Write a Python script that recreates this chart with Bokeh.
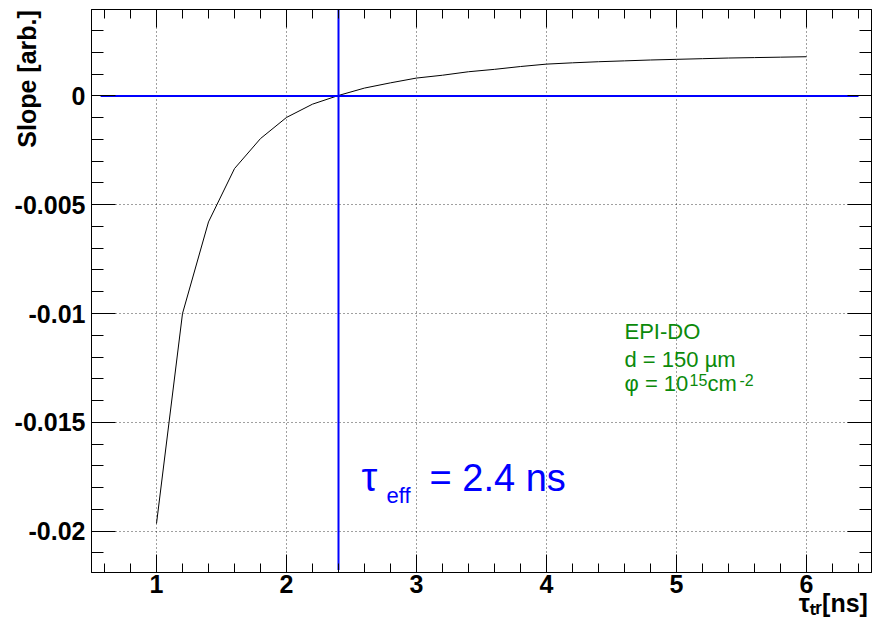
from bokeh.plotting import figure
from bokeh.models import Range1d, FixedTicker, LinearAxis, Label
from bokeh.embed import file_html
from bokeh.resources import INLINE

# ---- data ----
tau_tr = [1.0, 1.2, 1.4, 1.6, 1.8, 2.0, 2.2, 2.4, 2.6, 2.8, 3.0, 3.2, 3.4,
          3.6, 3.8, 4.0, 4.2, 4.4, 4.6, 4.8, 5.0, 5.2, 5.4, 5.6, 5.8, 6.0]
slope = [-0.01965, -0.0100, -0.00579, -0.00334, -0.00196, -0.00099, -0.00038,
         0.00002, 0.00036, 0.00060, 0.00082, 0.00095, 0.00111, 0.00122,
         0.00135, 0.00146, 0.00152, 0.00157, 0.00161, 0.00165, 0.00168,
         0.00171, 0.00174, 0.00176, 0.00178, 0.00180]

tau_eff = 2.4
zero_line_x = [0.57, 6.4]

x_ticks = [1, 2, 3, 4, 5, 6]
x_tick_labels = ["1", "2", "3", "4", "5", "6"]
x_minor = [0.6, 0.8, 1.2, 1.4, 1.6, 1.8, 2.2, 2.4, 2.6, 2.8, 3.2, 3.4, 3.6, 3.8,
           4.2, 4.4, 4.6, 4.8, 5.2, 5.4, 5.6, 5.8, 6.2, 6.4]
y_ticks = [-0.02, -0.015, -0.01, -0.005, 0.0]
y_tick_labels = ["-0.02", "-0.015", "-0.01", "-0.005", "0"]
y_minor = [-0.021, -0.019, -0.018, -0.017, -0.016, -0.014, -0.013, -0.012,
           -0.011, -0.009, -0.008, -0.007, -0.006, -0.004, -0.003, -0.002,
           -0.001, 0.001, 0.002, 0.003]

x_title = "\u03c4\u209c\u1d63[ns]"
y_title = "Slope [arb.]"

x_lo, x_hi = 0.5, 6.5
y_lo, y_hi = -0.0219, 0.00397

FONT = "Liberation Sans"
GREEN = "#0b8a0b"
BLUE = "#0000ff"
NBSP = "\u00a0"

p = figure(width=873, height=631, output_backend="svg", toolbar_location=None,
           x_range=Range1d(x_lo, x_hi), y_range=Range1d(y_lo, y_hi),
           min_border_left=91, min_border_right=2, min_border_top=9,
           min_border_bottom=59)
p.background_fill_color = "white"
p.border_fill_color = "white"
p.outline_line_color = "black"
p.outline_line_width = 1

xt = FixedTicker(ticks=x_ticks, minor_ticks=x_minor)
yt = FixedTicker(ticks=y_ticks, minor_ticks=y_minor)


def style_axis(ax, ticker, major_len, minor_len, labels=None):
    ax.ticker = ticker
    ax.axis_line_color = "black"
    ax.major_tick_line_color = "black"
    ax.minor_tick_line_color = "black"
    ax.major_tick_in = major_len
    ax.major_tick_out = 0
    ax.minor_tick_in = minor_len
    ax.minor_tick_out = 0
    if labels is None:
        ax.major_label_text_font_size = "0px"
        ax.major_label_text_color = None
        ax.major_label_standoff = 0
    else:
        ax.major_label_overrides = labels
        ax.major_label_text_font = FONT
        ax.major_label_text_font_style = "bold"
        ax.major_label_text_font_size = "25px"
        ax.major_label_text_color = "black"
        ax.axis_label_text_font = FONT
        ax.axis_label_text_font_style = "bold"
        ax.axis_label_text_font_size = "25px"
        ax.axis_label_text_color = "black"
        if "axis_label_align" in ax.properties():
            ax.axis_label_align = "end"


# axis titles sit at the far end of each axis (label is centred on the end,
# so it is padded with non-breaking spaces to push the visible text inwards)
xax = p.xaxis[0]
style_axis(xax, xt, 18, 9, {t: l for t, l in zip(x_ticks, x_tick_labels)})
xax.major_label_standoff = 2
xax.axis_label = x_title + NBSP * 11
xax.axis_label_standoff = -7

yax = p.yaxis[0]
style_axis(yax, yt, 24, 12, {t: l for t, l in zip(y_ticks, y_tick_labels)})
yax.major_label_standoff = 6
yax.axis_label = y_title + NBSP * 20
yax.axis_label_standoff = -29

top_ax = LinearAxis()
style_axis(top_ax, xt, 18, 9)
p.add_layout(top_ax, "above")
right_ax = LinearAxis()
style_axis(right_ax, yt, 24, 12)
p.add_layout(right_ax, "right")

for g in (p.xgrid[0], p.ygrid[0]):
    g.grid_line_color = "black"
    g.grid_line_dash = "1 3"
    g.grid_line_width = 1
    g.grid_line_alpha = 0.75
p.xgrid[0].ticker = xt
p.ygrid[0].ticker = yt

# curve
p.line(tau_tr, slope, line_color="black", line_width=1)

# blue reference lines
p.line(zero_line_x, [0, 0], line_color=BLUE, line_width=2)
p.line([tau_eff, tau_eff], [y_lo + 0.00012, y_hi], line_color=BLUE, line_width=2)

# tau_eff annotation
p.add_layout(Label(x=2.577, y=-0.01853, text="\u03c4", text_font=FONT,
                   text_font_size="40px", text_color=BLUE))
p.add_layout(Label(x=2.577, y=-0.01853, x_offset=25, y_offset=-9, text="eff",
                   text_font=FONT, text_font_size="22px", text_color=BLUE))
p.add_layout(Label(x=2.577, y=-0.01853, x_offset=68, text="= 2.4 ns",
                   text_font=FONT, text_font_size="38px", text_color=BLUE))

# green info text
p.add_layout(Label(x=4.6, y=-0.01138, text="EPI-DO", text_font=FONT,
                   text_font_size="22px", text_color=GREEN))
p.add_layout(Label(x=4.6, y=-0.01268, text="d = 150 \u00b5m", text_font=FONT,
                   text_font_size="22px", text_color=GREEN))
p.add_layout(Label(x=4.6, y=-0.0138, text="\u03c6 = 10", text_font=FONT,
                   text_font_size="22px", text_color=GREEN))
p.add_layout(Label(x=4.6, y=-0.0138, x_offset=65, y_offset=10, text="15",
                   text_font=FONT, text_font_size="16px", text_color=GREEN))
p.add_layout(Label(x=4.6, y=-0.0138, x_offset=83, text="cm", text_font=FONT,
                   text_font_size="22px", text_color=GREEN))
p.add_layout(Label(x=4.6, y=-0.0138, x_offset=115, y_offset=10, text="-2",
                   text_font=FONT, text_font_size="16px", text_color=GREEN))

open("out.html", "w").write(file_html(p, INLINE))
